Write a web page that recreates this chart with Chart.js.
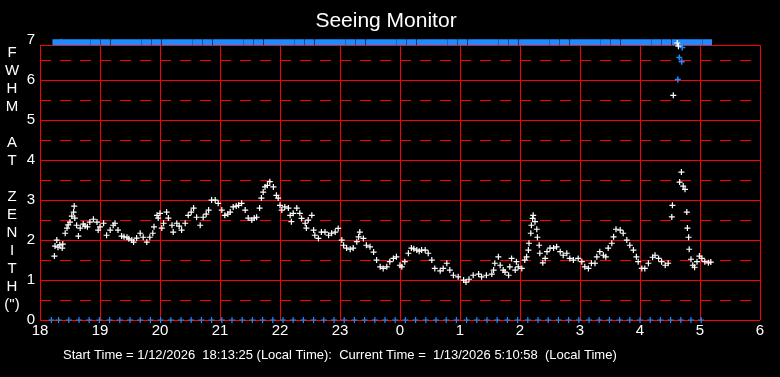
<!DOCTYPE html>
<html><head><meta charset="utf-8">
<script src="https://cdn.jsdelivr.net/npm/chart.js@4.4.1/dist/chart.umd.min.js"></script>
<style>html,body{margin:0;padding:0;background:#000;}canvas{display:block;}</style>
</head><body>
<canvas id="c" width="780" height="377"></canvas>
<script>
const chartTitle = 'Seeing Monitor';
const yAxisTitle = ['F','W','H','M','','A','T','','Z','E','N','I','T','H','(")'];
const footerText = 'Start Time = 1/12/2026  18:13:25 (Local Time):  Current Time =  1/13/2026 5:10:58  (Local Time)';

// y ticks: integers labelled, halves dashed; 6.875 is the plot's top edge
const yTickValues = [0,0.5,1,1.5,2,2.5,3,3.5,4,4.5,5,5.5,6,6.5,6.875,7];

// FWHM samples: clock hours (values past 24 are after midnight) and arcsec
const seeingTimes = [18.24,18.25,18.28,18.30,18.33,18.37,18.38,18.42,18.45,18.47,18.50,18.53,18.56,18.57,18.58,18.61,18.64,18.67,18.72,18.75,18.79,18.83,18.89,18.95,18.97,19.00,19.06,19.11,19.17,19.22,19.25,19.30,19.36,19.40,19.45,19.48,19.53,19.56,19.61,19.67,19.72,19.78,19.83,19.88,19.90,19.95,19.97,20.00,20.03,20.06,20.11,20.14,20.20,20.22,20.28,20.32,20.36,20.42,20.47,20.52,20.56,20.61,20.67,20.72,20.77,20.81,20.86,20.92,20.97,21.03,21.08,21.13,21.17,21.22,21.27,21.31,21.36,21.42,21.47,21.53,21.57,21.61,21.66,21.69,21.72,21.75,21.79,21.83,21.89,21.94,21.97,22.00,22.03,22.08,22.14,22.17,22.19,22.22,22.28,22.33,22.36,22.42,22.44,22.47,22.53,22.56,22.58,22.64,22.69,22.75,22.81,22.86,22.92,22.97,23.03,23.06,23.11,23.17,23.22,23.28,23.31,23.33,23.39,23.44,23.50,23.56,23.61,23.67,23.72,23.78,23.83,23.89,23.94,24.00,24.03,24.08,24.14,24.19,24.23,24.28,24.32,24.36,24.42,24.47,24.53,24.58,24.67,24.72,24.78,24.83,24.89,24.97,25.06,25.10,25.15,25.22,25.31,25.36,25.44,25.53,25.56,25.58,25.64,25.67,25.72,25.75,25.81,25.83,25.86,25.92,25.94,25.97,26.03,26.08,26.11,26.14,26.15,26.18,26.19,26.21,26.22,26.25,26.28,26.29,26.32,26.33,26.38,26.42,26.45,26.50,26.56,26.61,26.67,26.72,26.78,26.83,26.89,26.97,27.03,27.08,27.14,27.19,27.25,27.28,27.33,27.39,27.43,27.47,27.53,27.56,27.60,27.67,27.72,27.78,27.83,27.89,27.94,27.97,28.03,28.08,28.14,28.21,28.25,28.31,28.36,28.42,28.47,28.53,28.54,28.555,28.62,28.64,28.66,28.69,28.72,28.75,28.78,28.79,28.81,28.82,28.85,28.88,28.91,28.95,28.99,29.03,29.08,29.14,29.18];
const seeingFwhm = [1.60,1.85,2.00,1.82,1.88,1.80,1.90,2.17,2.30,2.38,2.45,2.60,2.70,2.85,2.55,2.37,2.10,2.30,2.40,2.35,2.33,2.45,2.52,2.45,2.25,2.33,2.42,2.12,2.25,2.37,2.42,2.25,2.10,2.08,2.07,2.03,2.00,1.95,2.05,2.17,2.07,1.95,2.07,2.17,2.33,2.62,2.55,2.67,2.30,2.42,2.70,2.55,2.37,2.20,2.42,2.35,2.25,2.42,2.62,2.70,2.80,2.57,2.37,2.57,2.65,2.75,3.00,3.00,2.92,2.75,2.62,2.65,2.70,2.83,2.85,2.87,2.92,2.75,2.55,2.50,2.55,2.57,2.80,3.05,3.20,3.33,3.37,3.46,3.33,3.12,3.05,2.87,2.75,2.83,2.80,2.62,2.46,2.67,2.80,2.67,2.54,2.42,2.30,2.50,2.62,2.25,2.12,2.04,2.20,2.20,2.12,2.17,2.20,2.29,2.00,1.87,1.80,1.77,1.80,1.96,2.08,2.20,2.04,1.87,1.83,1.70,1.50,1.33,1.29,1.33,1.46,1.54,1.58,1.37,1.33,1.46,1.67,1.80,1.78,1.75,1.72,1.75,1.75,1.67,1.50,1.29,1.23,1.29,1.42,1.25,1.12,1.08,1.00,0.95,1.02,1.12,1.15,1.08,1.12,1.15,1.25,1.42,1.58,1.37,1.25,1.20,1.12,1.33,1.54,1.25,1.46,1.33,1.29,1.50,1.58,1.75,1.92,2.17,2.37,2.54,2.62,2.46,2.27,2.07,1.87,1.67,1.43,1.54,1.71,1.80,1.80,1.83,1.71,1.62,1.67,1.54,1.50,1.54,1.46,1.33,1.29,1.42,1.42,1.58,1.71,1.62,1.58,1.80,1.92,2.08,2.27,2.25,2.17,2.00,1.87,1.75,1.58,1.46,1.29,1.29,1.42,1.57,1.62,1.54,1.46,1.37,1.42,2.58,2.87,5.62,6.93,6.85,3.45,3.70,3.35,3.27,2.70,2.30,2.07,1.77,1.52,1.37,1.32,1.46,1.60,1.54,1.46,1.43,1.45];

// blue samples near the end of the night
const blueTimes = [28.63,28.655,28.695,28.705];
const blueFwhm  = [6.02,6.57,6.46,6.82];

// blue flag markers, one per measurement cycle, drawn on the 7 and 0 rows
const flagTimes = [18.19,18.31,18.48,18.65,18.82,18.99,19.16,19.33,19.50,19.67,19.84,20.01,20.18,20.35,20.52,20.69,20.86,21.03,21.20,21.37,21.54,21.71,21.88,22.05,22.22,22.39,22.56,22.73,22.90,23.07,23.24,23.41,23.58,23.75,23.92,24.09,24.26,24.43,24.60,24.77,24.94,25.11,25.28,25.45,25.62,25.79,25.96,26.13,26.30,26.47,26.64,26.81,26.98,27.15,27.32,27.49,27.66,27.83,28.00,28.17,28.34,28.51,28.68,28.85,29.02];
const topFlagValue = 7;
const bottomFlagValue = 0;

const FONT = 'Arial, "Liberation Sans", sans-serif';
const RED = '#ff0000';
const BLUE = '#1e8cff';

// bar-like marker for the top row
const topMarker = document.createElement('canvas');
topMarker.width = 22; topMarker.height = 12;
(function(){ const g = topMarker.getContext('2d'); g.fillStyle = BLUE; g.fillRect(12,5,10,6); })();

const pts = (xs, ys) => xs.map((x,i) => ({x, y: ys[i]}));

const bgPlugin = {
  id: 'bg',
  beforeDraw(chart){ const c = chart.ctx; c.save(); c.fillStyle = '#000'; c.fillRect(0,0,chart.width,chart.height); c.restore(); }
};
const textPlugin = {
  id: 'texts',
  afterDraw(chart){
    const c = chart.ctx; c.save();
    c.fillStyle = '#ffffff';
    c.font = '15px ' + FONT; c.textAlign = 'center'; c.textBaseline = 'middle';
    yAxisTitle.forEach((s,i) => { if (s) c.fillText(s, 12, 53 + i*18); });
    c.font = '13px ' + FONT; c.textAlign = 'left';
    c.fillText(footerText, 63, 355);
    c.restore();
  }
};

new Chart(document.getElementById('c'), {
  type: 'scatter',
  data: {
    datasets: [
      { label: 'FWHM', data: pts(seeingTimes, seeingFwhm), pointStyle: 'cross', pointRadius: 3, borderColor: '#ffffff', borderWidth: 1.2, clip: false, order: 0 },
      { label: 'blue', data: pts(blueTimes, blueFwhm), pointStyle: 'cross', pointRadius: 3, borderColor: BLUE, borderWidth: 1.5, clip: false, order: 1 },
      { label: 'top', data: flagTimes.map(t => ({x: t, y: topFlagValue})), pointStyle: topMarker, pointRadius: 5, clip: false, order: 2 },
      { label: 'bottom', data: flagTimes.map(t => ({x: t, y: bottomFlagValue})), pointStyle: 'cross', pointRadius: 3, borderColor: BLUE, borderWidth: 1.2, clip: false, order: 3 }
    ]
  },
  options: {
    responsive: false, animation: false, events: [],
    layout: { padding: { left: 12, right: 20, top: 0, bottom: 35 } },
    plugins: {
      legend: { display: false }, tooltip: { enabled: false },
      title: { display: true, text: chartTitle, color: '#ffffff', font: { family: FONT, size: 21, weight: 'normal' }, padding: { top: 9, bottom: 11 } }
    },
    scales: {
      x: {
        type: 'linear', min: 18, max: 30,
        afterFit(s){ s.height = 22; },
        ticks: { stepSize: 1, color: '#ffffff', padding: 2, font: { family: FONT, size: 15 },
                 callback: v => String(v >= 24 ? v - 24 : v) },
        grid: { color: RED, lineWidth: 1, drawTicks: false },
        border: { display: false }
      },
      y: {
        type: 'linear', min: 0, max: 6.875, bounds: 'data',
        afterFit(s){ s.width = 28; },
        afterBuildTicks(s){ s.ticks = yTickValues.map(v => ({ value: v })); },
        ticks: { autoSkip: false, color: '#ffffff', padding: 5, font: { family: FONT, size: 15 },
                 callback: v => Number.isInteger(v) ? String(v) : '' },
        grid: { lineWidth: 1, drawTicks: false,
                color: ctx => (ctx.tick && ctx.tick.value > 6.9) ? 'rgba(0,0,0,0)' : RED },
        border: { display: false,
                  dash: ctx => (ctx.tick && Math.abs(ctx.tick.value % 1 - 0.5) < 1e-6) ? [11, 9] : [] }
      }
    }
  },
  plugins: [bgPlugin, textPlugin]
});
</script>
</body></html>
